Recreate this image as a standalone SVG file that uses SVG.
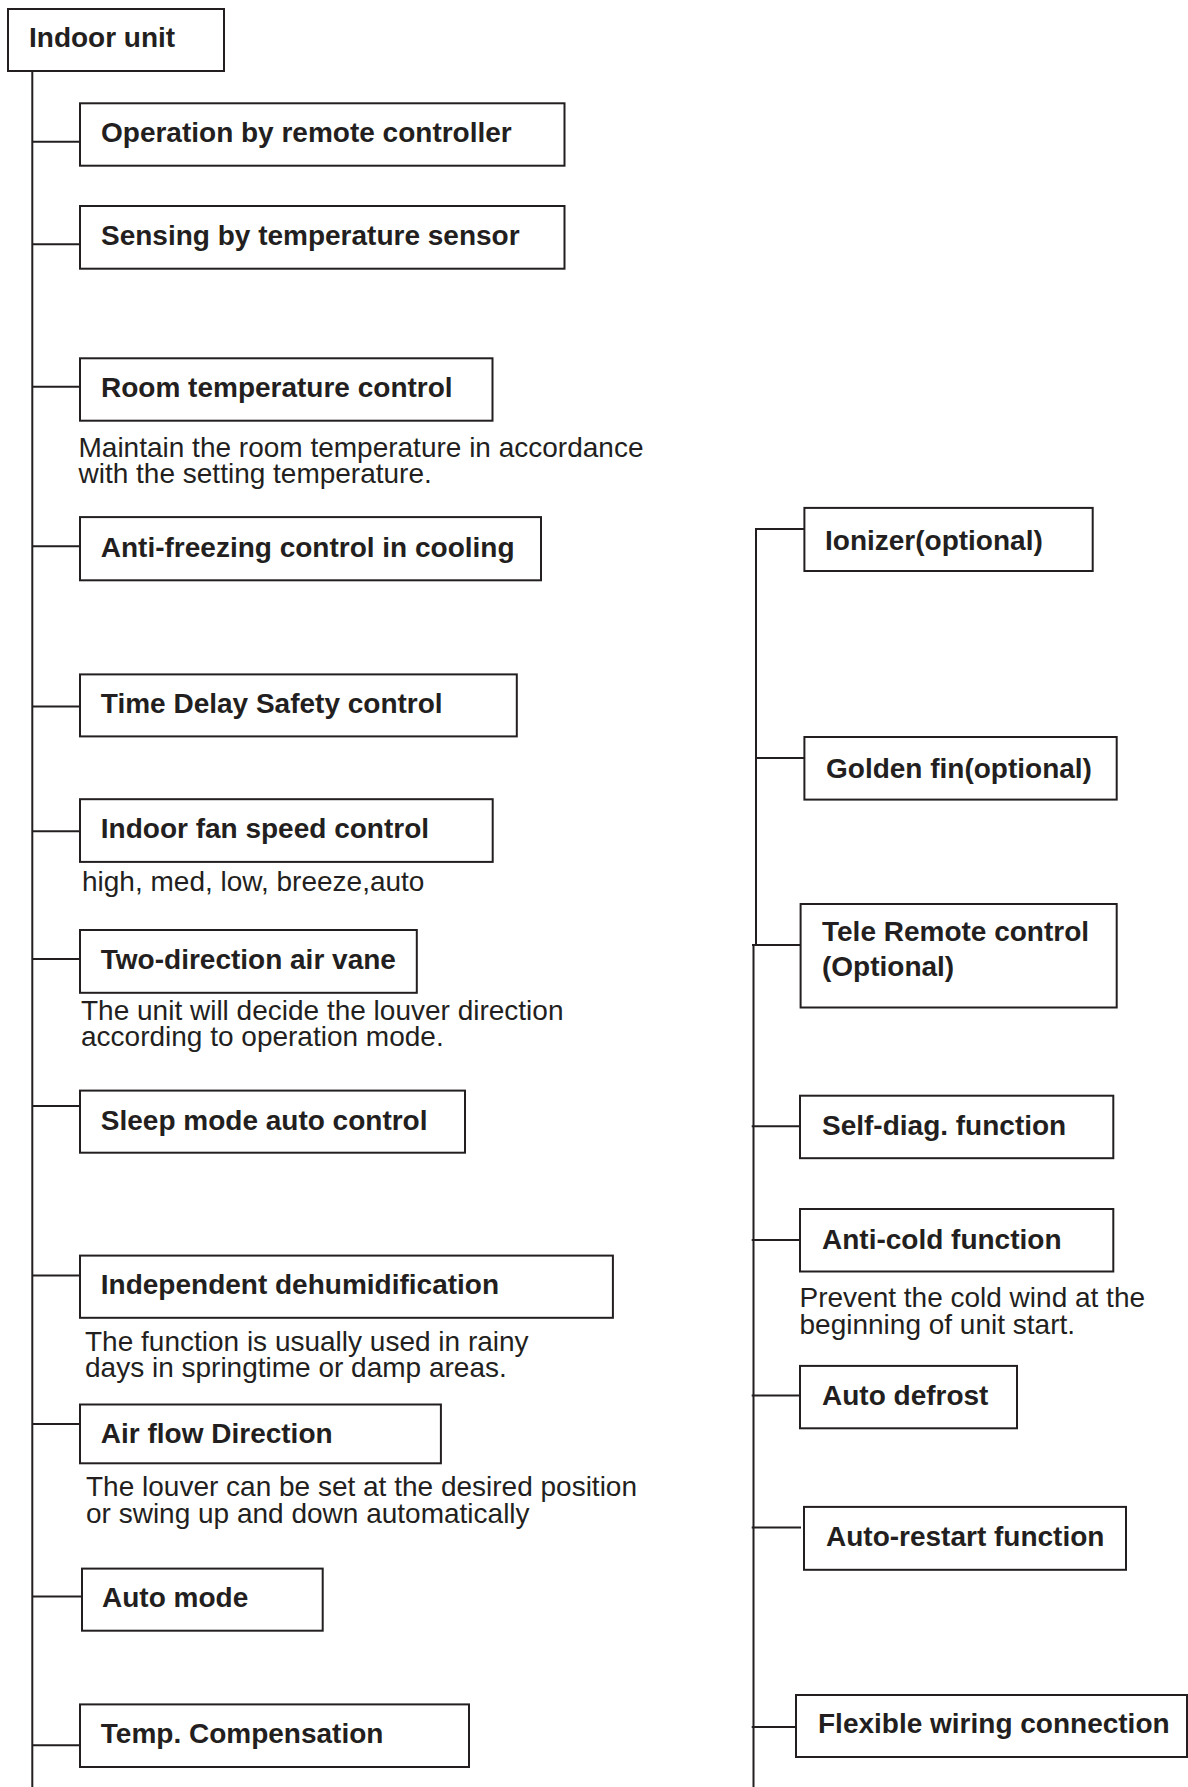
<svg xmlns="http://www.w3.org/2000/svg" width="1188" height="1787" viewBox="0 0 1188 1787">
<style>
.box{fill:#fff;stroke:#231f20;stroke-width:2}
.ln{stroke:#231f20;stroke-width:2;fill:none}
.lb{font-family:"Liberation Sans",Arial,sans-serif;font-weight:bold;font-size:28px;fill:#231f20}
.ds{font-family:"Liberation Sans",Arial,sans-serif;font-size:28px;fill:#231f20}
</style>
<rect width="1188" height="1787" fill="#fff"/>
<g id="connectors">
<line class="ln" x1="32.3" y1="71" x2="32.3" y2="1787"/>
<line class="ln" x1="32" y1="141.7" x2="80" y2="141.7"/>
<line class="ln" x1="32" y1="244.3" x2="80" y2="244.3"/>
<line class="ln" x1="32" y1="386.7" x2="80" y2="386.7"/>
<line class="ln" x1="32" y1="546.2" x2="80" y2="546.2"/>
<line class="ln" x1="32" y1="706.6" x2="80" y2="706.6"/>
<line class="ln" x1="32" y1="831.3" x2="80" y2="831.3"/>
<line class="ln" x1="32" y1="959.1" x2="80" y2="959.1"/>
<line class="ln" x1="32" y1="1105.9" x2="80" y2="1105.9"/>
<line class="ln" x1="32" y1="1275.6" x2="80" y2="1275.6"/>
<line class="ln" x1="32" y1="1424" x2="80" y2="1424"/>
<line class="ln" x1="32" y1="1596.4" x2="82" y2="1596.4"/>
<line class="ln" x1="32" y1="1745.2" x2="80" y2="1745.2"/>
<polyline class="ln" points="804.4,529 756,529 756,945"/>
<line class="ln" x1="753.5" y1="945" x2="753.5" y2="1787"/>
<line class="ln" x1="756" y1="758" x2="804.4" y2="758"/>
<line class="ln" x1="752" y1="945" x2="800.6" y2="945"/>
<line class="ln" x1="751.7" y1="1126.2" x2="800" y2="1126.2"/>
<line class="ln" x1="751.7" y1="1240" x2="800" y2="1240"/>
<line class="ln" x1="751.7" y1="1395.4" x2="800" y2="1395.4"/>
<line class="ln" x1="751.7" y1="1527.4" x2="801" y2="1527.4"/>
<line class="ln" x1="751.7" y1="1727" x2="796" y2="1727"/>
</g>
<g id="indoor-unit"><rect class="box" x="8" y="9" width="216" height="62"/><text class="lb" x="29" y="47">Indoor unit</text></g>
<g id="operation"><rect class="box" x="80" y="103.3" width="484.5" height="62.4"/><text class="lb" x="101" y="141.7">Operation by remote controller</text></g>
<g id="sensing"><rect class="box" x="80" y="206" width="484.5" height="62.7"/><text class="lb" x="101" y="245">Sensing by temperature sensor</text></g>
<g id="room-temp"><rect class="box" x="80" y="358.3" width="412.5" height="62.4"/><text class="lb" x="101" y="396.7">Room temperature control</text>
<text class="ds" x="78.5" y="457">Maintain the room temperature in accordance</text><text class="ds" x="78.5" y="483">with the setting temperature.</text></g>
<g id="anti-freezing"><rect class="box" x="80" y="517.1" width="461" height="63.2"/><text class="lb" x="100.8" y="556.5">Anti-freezing control in cooling</text></g>
<g id="time-delay"><rect class="box" x="80" y="674.4" width="436.8" height="62"/><text class="lb" x="100.8" y="712.7">Time Delay Safety control</text></g>
<g id="fan-speed"><rect class="box" x="80" y="799.2" width="412.7" height="62.7"/><text class="lb" x="100.8" y="837.8">Indoor fan speed control</text>
<text class="ds" x="82" y="891.4">high, med, low, breeze,auto</text></g>
<g id="air-vane"><rect class="box" x="80" y="930" width="336.8" height="62.8"/><text class="lb" x="100.8" y="968.7">Two-direction air vane</text>
<text class="ds" x="81" y="1019.6">The unit will decide the louver direction</text><text class="ds" x="81" y="1045.6">according to operation mode.</text></g>
<g id="sleep-mode"><rect class="box" x="80" y="1090.6" width="385" height="62.1"/><text class="lb" x="100.8" y="1129.5">Sleep mode auto control</text></g>
<g id="dehumidification"><rect class="box" x="80" y="1255.6" width="532.9" height="62.2"/><text class="lb" x="100.8" y="1294.1">Independent dehumidification</text>
<text class="ds" x="85" y="1351">The function is usually used in rainy</text><text class="ds" x="85" y="1377">days in springtime or damp areas.</text></g>
<g id="air-flow"><rect class="box" x="80" y="1404.5" width="360.9" height="58.8"/><text class="lb" x="100.8" y="1443">Air flow Direction</text>
<text class="ds" x="86" y="1496">The louver can be set at the desired position</text><text class="ds" x="86" y="1522.5">or swing up and down automatically</text></g>
<g id="auto-mode"><rect class="box" x="82" y="1568.6" width="240.7" height="62.1"/><text class="lb" x="102" y="1607">Auto mode</text></g>
<g id="temp-compensation"><rect class="box" x="80" y="1704.4" width="389" height="62.6"/><text class="lb" x="100.8" y="1742.9">Temp. Compensation</text></g>
<g id="ionizer"><rect class="box" x="804.4" y="507.9" width="288.3" height="63.1"/><text class="lb" x="825" y="549.6">Ionizer(optional)</text></g>
<g id="golden-fin"><rect class="box" x="804.4" y="737" width="312.3" height="62.6"/><text class="lb" x="826" y="778.2">Golden fin(optional)</text></g>
<g id="tele-remote"><rect class="box" x="800.6" y="904" width="316.1" height="103.5"/><text class="lb" x="822" y="940.7">Tele Remote control</text><text class="lb" x="822" y="976">(Optional)</text></g>
<g id="self-diag"><rect class="box" x="800" y="1095.7" width="313.3" height="62.5"/><text class="lb" x="822" y="1135.3">Self-diag. function</text></g>
<g id="anti-cold"><rect class="box" x="800" y="1209" width="313.3" height="62.5"/><text class="lb" x="822" y="1248.7">Anti-cold function</text>
<text class="ds" x="799.5" y="1307">Prevent the cold wind at the</text><text class="ds" x="799.5" y="1334">beginning of unit start.</text></g>
<g id="auto-defrost"><rect class="box" x="800" y="1365.9" width="217" height="62.4"/><text class="lb" x="822" y="1404.5">Auto defrost</text></g>
<g id="auto-restart"><rect class="box" x="804" y="1506.9" width="322" height="62.9"/><text class="lb" x="826" y="1546">Auto-restart function</text></g>
<g id="flexible-wiring"><rect class="box" x="796" y="1695" width="391" height="62"/><text class="lb" x="818" y="1733">Flexible wiring connection</text></g>
</svg>
